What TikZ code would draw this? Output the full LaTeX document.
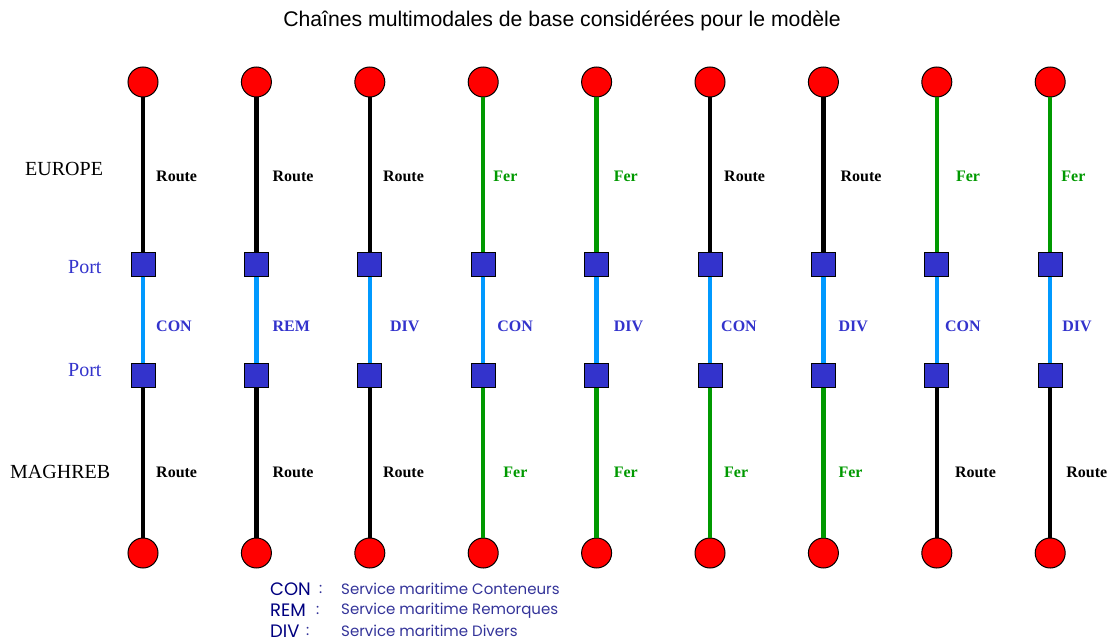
\documentclass[tikz,border=0pt]{standalone}
\usepackage{fontspec}
\setmainfont{Liberation Serif}
\newfontfamily\titlefont{Liberation Sans}
\newfontfamily\legfont{Poppins}
\definecolor{portblue}{HTML}{3333CC}
\definecolor{seablue}{HTML}{0099FF}
\definecolor{railgreen}{HTML}{009900}
\definecolor{legnavy}{HTML}{000080}
\definecolor{legtext}{HTML}{333399}
\tikzset{
  city/.style={circle,draw=black,line width=1pt,fill=red,minimum size=30pt,inner sep=0pt},
  portbox/.style={rectangle,draw=black,line width=1pt,fill=portblue,minimum size=24pt,inner sep=0pt},
  road/.style={draw=black,line width=4.5pt},
  rail/.style={draw=railgreen,line width=4.5pt},
  sea/.style={draw=seablue,line width=4.5pt},
  lbl/.style={anchor=west,inner sep=0pt,font=\fontsize{16}{18}\selectfont\bfseries},
  roadlbl/.style={lbl,text=black},
  raillbl/.style={lbl,text=railgreen},
  sealbl/.style={lbl,text=portblue},
  side/.style={anchor=west,inner sep=0pt,font=\fontsize{20}{22}\selectfont},
  legkey/.style={anchor=west,inner sep=0pt,font=\legfont\fontsize{18}{20}\selectfont,text=legnavy},
  legcolon/.style={anchor=west,inner sep=0pt,font=\legfont\fontsize{15}{17}\selectfont,text=legtext},
  legdesc/.style={anchor=west,inner sep=0pt,font=\legfont\fontsize{15}{17}\selectfont,text=legtext},
}
\begin{document}
\begin{tikzpicture}[x=1pt,y=-1pt]
\useasboundingbox (0,0) rectangle (1109,642);
\node[font=\titlefont\fontsize{21.2}{24}\selectfont] (title) at (562,21) {Chaînes multimodales de base considérées pour le modèle};
\node[side] (eu) at (25,169) {EUROPE};
\node[side,text=portblue] (p1) at (68,267) {Port};
\node[side,text=portblue] (p2) at (68,370) {Port};
\node[side] (ma) at (10,472) {MAGHREB};
\foreach \i/\x/\tm/\tl/\to/\sl/\so/\bm/\bl/\bo in {
  1/143/road/Route/13/CON/13/road/Route/13,
  2/256.4/road/Route/16/REM/16/road/Route/16,
  3/369.8/road/Route/13/DIV/20/road/Route/13,
  4/483.2/rail/Fer/10/CON/14/rail/Fer/20,
  5/596.6/rail/Fer/17/DIV/17/rail/Fer/17,
  6/710/road/Route/14/CON/11/rail/Fer/14,
  7/823.4/road/Route/17/DIV/15/rail/Fer/15,
  8/936.8/rail/Fer/19/CON/8/road/Route/18,
  9/1050.2/rail/Fer/11/DIV/12/road/Route/16}{
  \node[city] (t\i) at (\x,82) {};
  \node[portbox] (a\i) at (\x,264) {};
  \node[portbox] (b\i) at (\x,375) {};
  \node[city] (d\i) at (\x,553) {};
  \draw[\tm] (t\i) -- (a\i);
  \draw[sea] (a\i) -- (b\i);
  \draw[\bm] (b\i) -- (d\i);
  \node[\tm lbl] (tl\i) at (\x+\to,176) {\tl};
  \node[sealbl] (sl\i) at (\x+\so,326) {\sl};
  \node[\bm lbl] (bl\i) at (\x+\bo,472) {\bl};
}
\node[legkey] (k1) at (270,589) {CON};
\node[legkey] (k2) at (270,610.5) {REM};
\node[legkey] (k3) at (270,631) {DIV};
\node[legcolon] (c1) at (319,589) {:};
\node[legcolon] (c2) at (316,610.5) {:};
\node[legcolon] (c3) at (306,631) {:};
\node[legdesc] (e1) at (341,589) {Service maritime Conteneurs};
\node[legdesc] (e2) at (341,610.5) {Service maritime Remorques};
\node[legdesc] (e3) at (341,631) {Service maritime Divers};
\end{tikzpicture}
\end{document}
